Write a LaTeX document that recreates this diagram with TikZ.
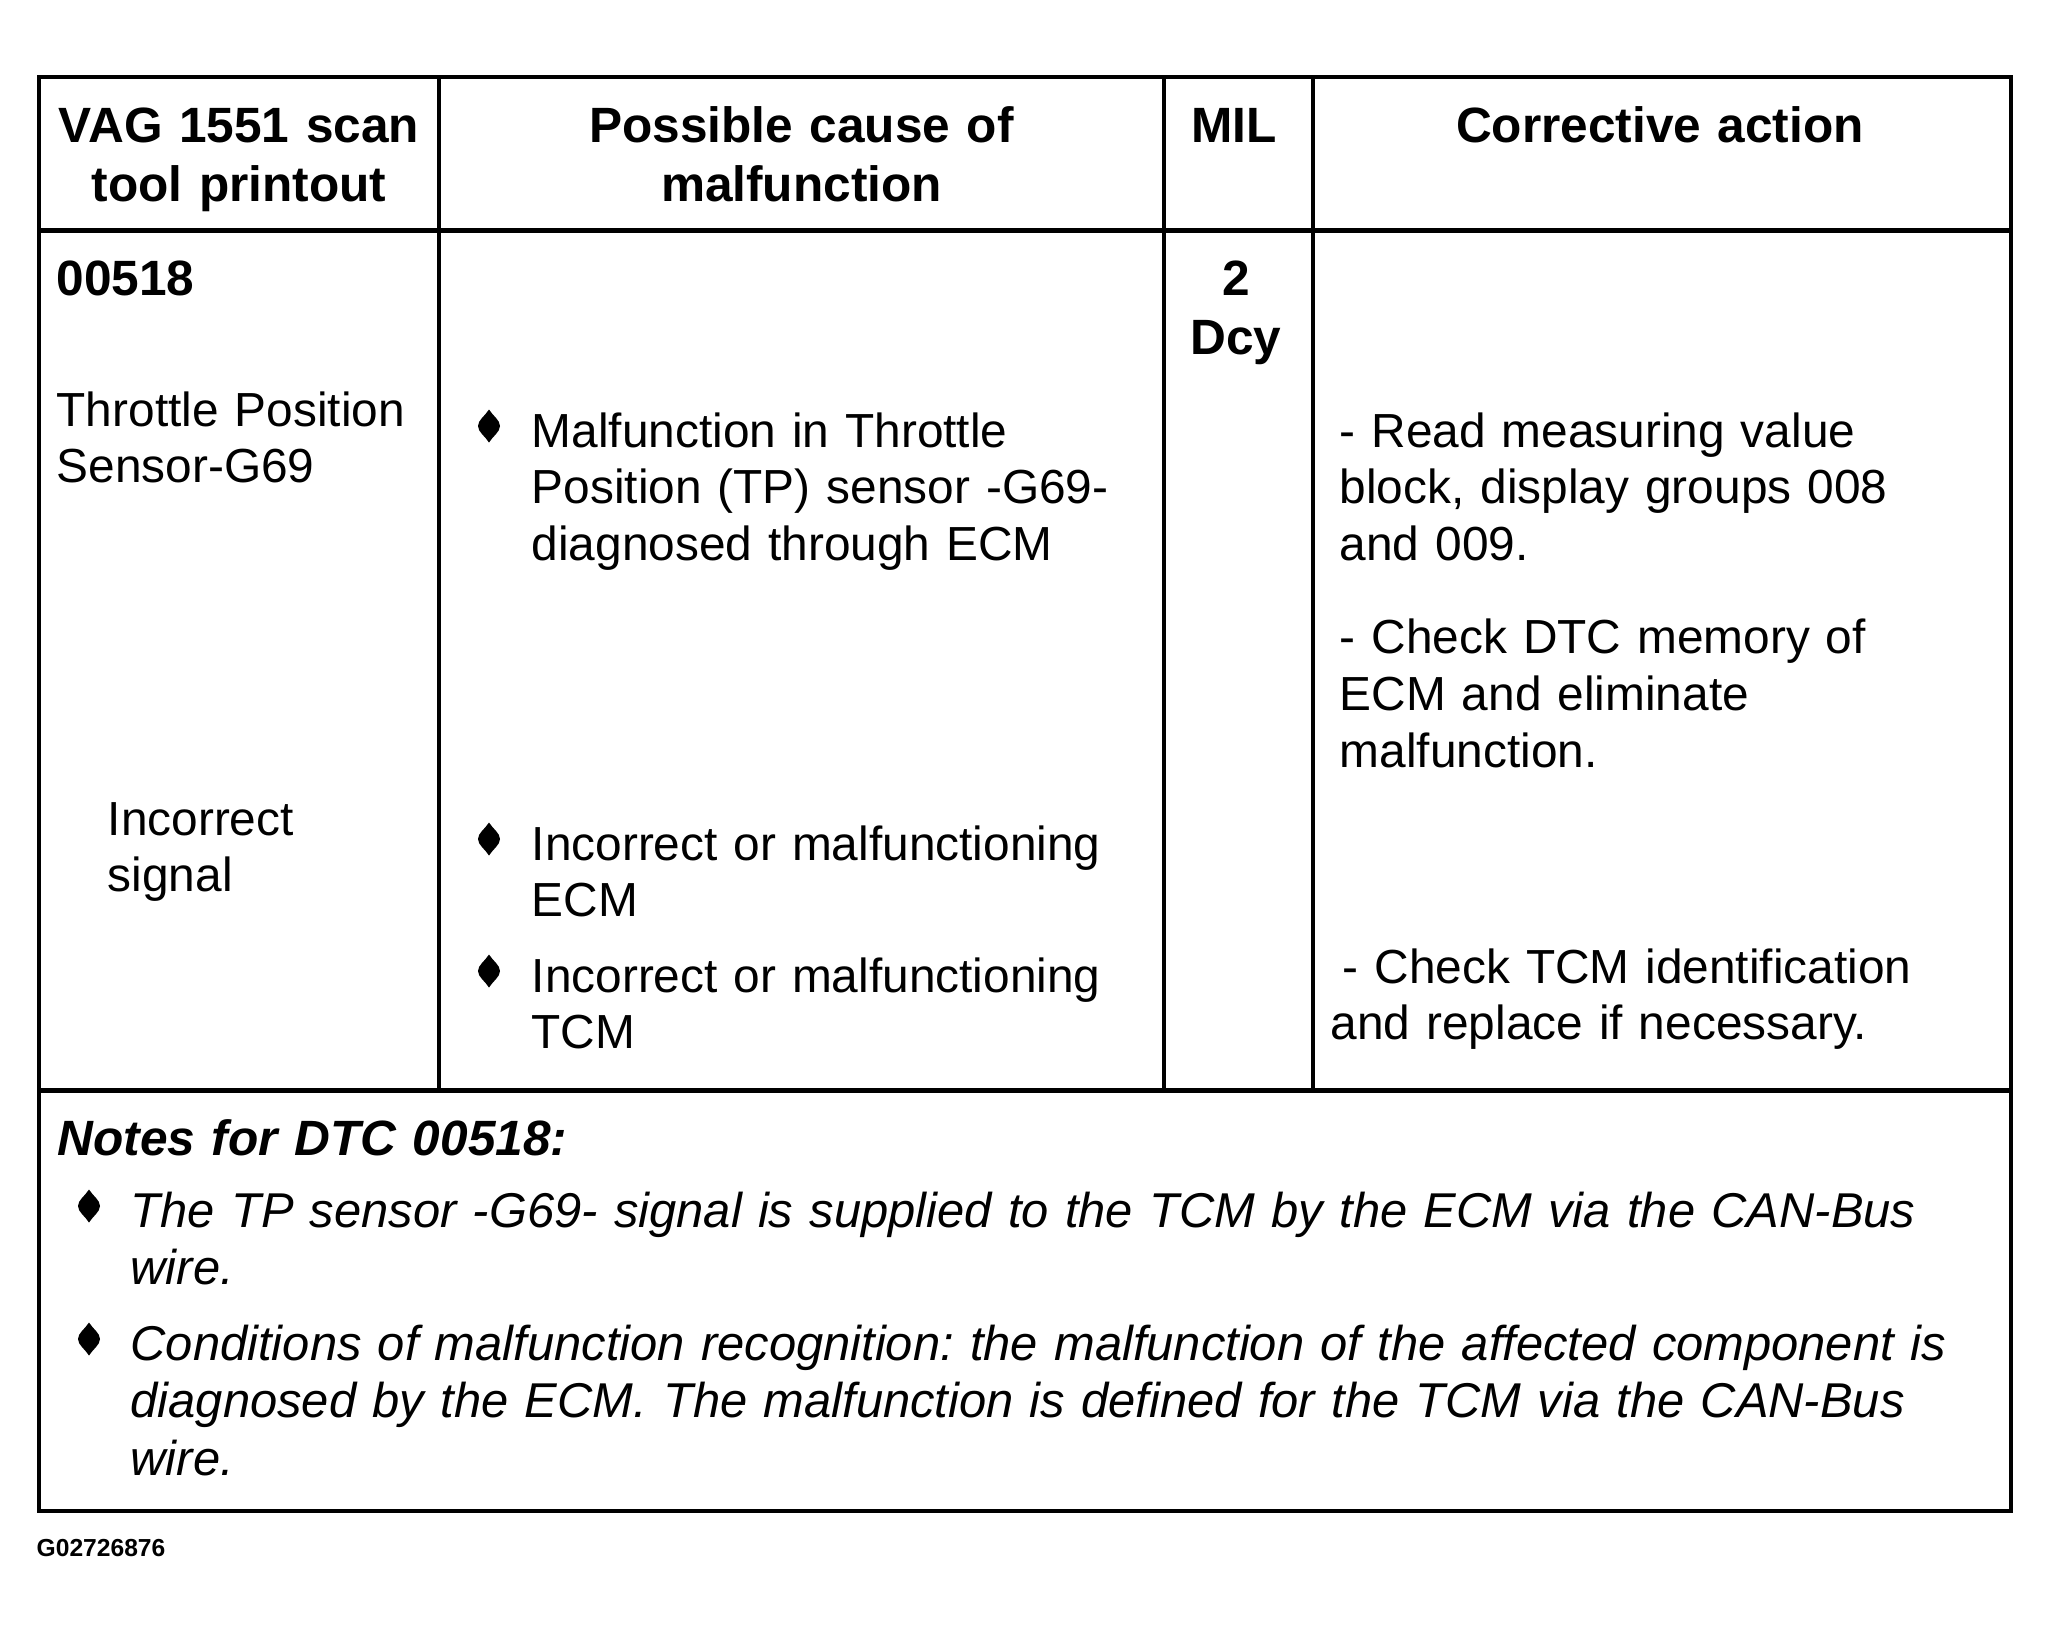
\documentclass[tikz,border=0pt]{standalone}
\usepackage{fontspec}
\setmainfont{Liberation Sans}
\usetikzlibrary{calc}

\newcommand\tabbody{\fontsize{13.6}{16.2}\selectfont}
\newcommand\tabhead{\fontsize{14.1}{16.8}\selectfont\bfseries}
\newcommand\tabnote{\fontsize{13.9}{16.4}\selectfont\itshape\frenchspacing}

\tikzset{
  rule/.style={line width=1.15pt},
  head/.style={inner sep=0pt, anchor=base, align=center, text width=6cm, font=\tabhead},
  cell/.style={inner sep=0pt, anchor=base west, align=left, text width=8cm, font=\tabbody},
  note/.style={inner sep=0pt, anchor=base west, align=left, text width=19.5cm, font=\tabnote},
  bulletmark/.pic={\fill (0,-16.5) .. controls (4,-10) and (11,-6) .. (11,0)
      .. controls (11,6) and (4,10) .. (0,16.5)
      .. controls (-4,10) and (-11,6) .. (-11,0)
      .. controls (-11,-6) and (-4,-10) .. (0,-16.5) -- cycle;}
}

\begin{document}
\begin{tikzpicture}[x=0.01cm,y=-0.01cm]
  \useasboundingbox (0,0) rectangle (2050,1632);
  % table frame
  \coordinate (tl) at (39,77);
  \coordinate (br) at (2011,1511);
  \draw[rule] (tl) rectangle (br);
  \draw[rule] (39,230.5) -- (2011,230.5);
  \draw[rule] (39,1090.5) -- (2011,1090.5);
  \foreach \x in {439,1164,1313}
    \draw[rule] (\x,77) -- (\x,1090.5);

  % header row
  \foreach \n/\x/\t in {
    hscan/239/{VAG 1551 scan\\tool printout},
    hcause/801.5/{Possible cause of\\malfunction},
    hmil/1234/MIL,
    hfix/1660/{Corrective action}%
  } {
    \node[head] (\n) at (\x,142) {\t};
  }

  % scan tool column
  \node[cell, font=\tabhead] (code) at (56,295) {00518};
  \node[cell] (part) at (56,426) {Throttle Position\\Sensor-G69};
  \node[cell] (fault) at (107,835) {Incorrect\\signal};

  % possible causes
  \foreach \n/\y/\t in {
    cause1/447/{Malfunction in Throttle\\Position (TP) sensor -G69-\\diagnosed through ECM},
    cause2/860/{Incorrect or malfunctioning\\ECM},
    cause3/992/{Incorrect or malfunctioning\\TCM}%
  } {
    \node[cell] (\n) at (531,\y) {\t};
    \pic at ($(\n.base west)+(-42,-21)$) {bulletmark};
  }

  % MIL
  \node[head, font=\fontsize{14.1}{17}\selectfont\bfseries] (mil) at (1236,295) {2\\Dcy};

  % corrective action
  \node[cell] (fix1) at (1339,447) {- Read measuring value\\block, display groups 008\\and 009.};
  \node[cell] (fix2) at (1339,653.5) {- Check DTC memory of\\ECM and eliminate\\malfunction.};
  \node[cell] (fix3) at (1330,983) {\hspace*{0.12cm}- Check TCM identification\\and replace if necessary.};

  % notes
  \node[note, font=\tabhead\itshape] (ntitle) at (57,1155.5) {Notes for DTC 00518:};
  \node[note] (note1) at (130,1227) {The TP sensor -G69- signal is supplied to the TCM by the ECM via the CAN-Bus\\wire.};
  \node[note] (note2) at (130,1360) {Conditions of malfunction recognition: the malfunction of the affected component is\\diagnosed by the ECM. The malfunction is defined for the TCM via the CAN-Bus\\wire.};
  \foreach \n in {note1,note2}
    \pic at ($(\n.base west)+(-41,-21)$) {bulletmark};

  \node[inner sep=0pt, anchor=base west, font=\fontsize{7}{8}\selectfont\bfseries] (figid) at (36,1556.7) {G02726876};
\end{tikzpicture}
\end{document}
